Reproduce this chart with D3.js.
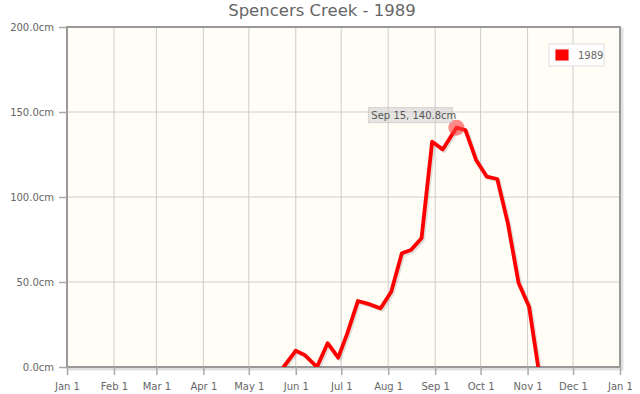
<!DOCTYPE html>
<html>
<head>
<meta charset="utf-8">
<script src="https://cdn.jsdelivr.net/npm/d3@7"></script>
<style>
  body { margin: 0; background: #fff; }
  svg { display: block; }
</style>
</head>
<body>
<svg id="chart"></svg>
<script>
// snow depth readings, Spencers Creek 1989
const dates = ["1989-05-24", "1989-06-01", "1989-06-07", "1989-06-15", "1989-06-22", "1989-06-29",
  "1989-07-05", "1989-07-12", "1989-07-20", "1989-07-27", "1989-08-03", "1989-08-10", "1989-08-16",
  "1989-08-23", "1989-08-30", "1989-09-06", "1989-09-15", "1989-09-21", "1989-09-28", "1989-10-05",
  "1989-10-12", "1989-10-19", "1989-10-26", "1989-11-02", "1989-11-08"];
const depths = [0, 9.6, 7, 0, 14, 5.5, 19.8, 38.8, 36.8, 34.5, 44.3, 66.9, 68.8, 75.7, 132.5,
  128, 140.8, 139.4, 121.8, 112, 110.6, 84.5, 49.6, 35.5, 0];
const yTicks = [0, 50, 100, 150, 200];
const monthTicks = ["1989-01-01", "1989-02-01", "1989-03-01", "1989-04-01", "1989-05-01", "1989-06-01",
  "1989-07-01", "1989-08-01", "1989-09-01", "1989-10-01", "1989-11-01", "1989-12-01", "1990-01-01"];
const seriesName = "1989";
const highlightIndex = 16;

const config = {
  width: 640, height: 394,
  margin: { top: 27, right: 20, bottom: 27, left: 67 },
  font: "'DejaVu Sans', sans-serif"
};

const parse = d3.timeParse("%Y-%m-%d");
const data = dates.map((d, i) => ({ date: parse(d), value: depths[i] }));

const w = config.width - config.margin.left - config.margin.right;
const h = config.height - config.margin.top - config.margin.bottom;

const svg = d3.select("#chart")
  .attr("width", config.width)
  .attr("height", config.height);

const defs = svg.append("defs");
defs.append("clipPath").attr("id", "clip")
  .append("rect").attr("width", w).attr("height", h);

// title, centred on the whole chart like jqplot does
svg.append("text")
  .attr("x", config.width / 2 + 2)
  .attr("y", 16)
  .attr("text-anchor", "middle")
  .style("font-family", config.font)
  .style("font-size", "16.5px")
  .style("fill", "#666")
  .text("Spencers Creek - 1989");

const xScale = d3.scaleTime()
  .domain([parse(monthTicks[0]), parse(monthTicks[monthTicks.length - 1])])
  .range([0, w]);
const yScale = d3.scaleLinear()
  .domain([0, 200])
  .range([h, 0]);

const chart = svg.append("g")
  .attr("transform", `translate(${config.margin.left},${config.margin.top})`);

// plot background + border shadow
chart.append("rect")
  .attr("x", 2).attr("y", 2).attr("width", w).attr("height", h)
  .attr("fill", "none").attr("stroke", "rgba(0,0,0,0.12)").attr("stroke-width", 3);
chart.append("rect")
  .attr("width", w).attr("height", h)
  .attr("fill", "#fffdf6");

// grid
chart.append("g").selectAll("line")
  .data(yTicks)
  .join("line")
  .attr("x1", 0).attr("x2", w)
  .attr("y1", d => yScale(d)).attr("y2", d => yScale(d))
  .attr("stroke", "#cccccc").attr("stroke-width", 1);
chart.append("g").selectAll("line")
  .data(monthTicks.map(parse))
  .join("line")
  .attr("x1", d => xScale(d)).attr("x2", d => xScale(d))
  .attr("y1", 0).attr("y2", h)
  .attr("stroke", "#cccccc").attr("stroke-width", 1);

chart.append("rect")
  .attr("width", w).attr("height", h)
  .attr("fill", "none").attr("stroke", "#999").attr("stroke-width", 2);

// axes
const yAxis = d3.axisLeft(yScale)
  .tickValues(yTicks)
  .tickSize(8)
  .tickPadding(5)
  .tickFormat(d => d3.format(".1f")(d) + "cm");
const xAxis = d3.axisBottom(xScale)
  .tickValues(monthTicks.map(parse))
  .tickSize(8)
  .tickPadding(8)
  .tickFormat(d3.timeFormat("%b %-d"));

const yAxisG = chart.append("g").call(yAxis);
const xAxisG = chart.append("g").attr("transform", `translate(0,${h})`).call(xAxis);
[yAxisG, xAxisG].forEach(g => {
  g.select(".domain").remove();
  g.selectAll(".tick line").attr("stroke", "#aaa").attr("stroke-width", 1.5);
  g.selectAll(".tick text")
    .style("font-family", config.font)
    .style("font-size", "10px")
    .attr("fill", "#666");
});

// series line
const line = d3.line()
  .x(d => xScale(d.date))
  .y(d => yScale(d.value));

const plot = chart.append("g").attr("clip-path", "url(#clip)");
plot.append("path")
  .datum(data)
  .attr("d", line)
  .attr("transform", "translate(1.5,1.5)")
  .attr("fill", "none")
  .attr("stroke", "rgba(0,0,0,0.12)")
  .attr("stroke-width", 4)
  .attr("stroke-linejoin", "round");
plot.append("path")
  .datum(data)
  .attr("d", line)
  .attr("fill", "none")
  .attr("stroke", "#ff0000")
  .attr("stroke-width", 3.8)
  .attr("stroke-linejoin", "round")
  .attr("stroke-linecap", "round");

// highlighted point + tooltip
const hp = data[highlightIndex];
chart.append("circle")
  .attr("cx", xScale(hp.date))
  .attr("cy", yScale(hp.value))
  .attr("r", 8)
  .attr("fill", "rgba(255,60,60,0.6)");

const tip = chart.append("g")
  .attr("transform", `translate(${xScale(hp.date) - 88},${yScale(hp.value) - 20})`);
const tipText = d3.timeFormat("%b %-d")(hp.date) + ", " + d3.format(".1f")(hp.value) + "cm";
tip.append("rect")
  .attr("width", 84).attr("height", 15)
  .attr("fill", "rgba(208,208,208,0.55)")
  .attr("stroke", "rgba(190,190,190,0.6)");
tip.append("text")
  .attr("x", 3).attr("y", 11)
  .style("font-family", config.font)
  .style("font-size", "10px")
  .attr("fill", "#555")
  .text(tipText);

// legend
const legend = chart.append("g")
  .attr("transform", `translate(${w - 71},${17})`);
legend.append("rect")
  .attr("width", 55).attr("height", 22)
  .attr("fill", "#fff").attr("stroke", "#ddd");
legend.append("rect")
  .attr("x", 6).attr("y", 5).attr("width", 14).attr("height", 12)
  .attr("fill", "#ff0000").attr("stroke", "#eee");
legend.append("text")
  .attr("x", 29).attr("y", 15)
  .style("font-family", config.font)
  .style("font-size", "10px")
  .attr("fill", "#666")
  .text(seriesName);
</script>
</body>
</html>
